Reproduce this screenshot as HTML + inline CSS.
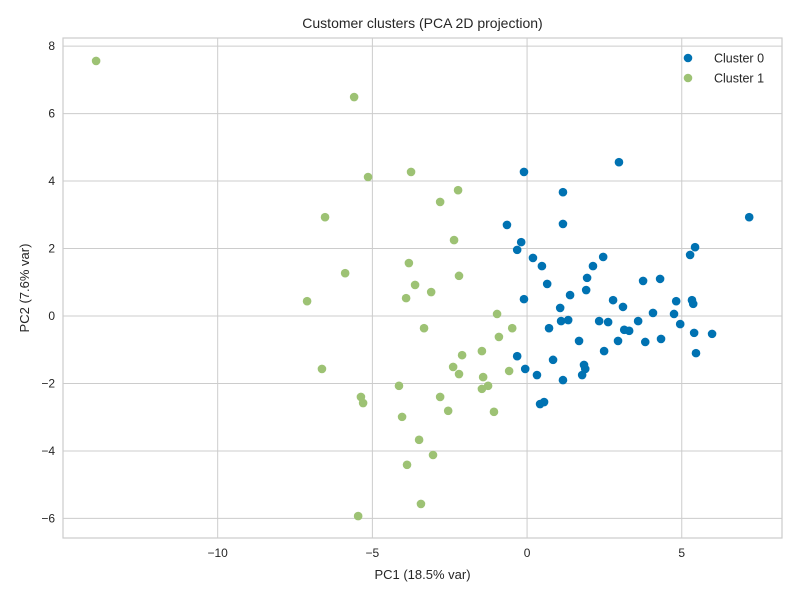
<!DOCTYPE html>
<html><head><meta charset="utf-8"><style>
html,body{margin:0;padding:0;background:#fff;}
svg{display:block;font-family:"Liberation Sans",Arial,sans-serif;}
</style></head><body>
<svg id="chart" width="800" height="600" xmlns="http://www.w3.org/2000/svg"></svg>
<script>
const xTicks=[-10,-5,0,5];
const yTicks=[-6,-4,-2,0,2,4,6,8];
const seriesNames=["Cluster 0","Cluster 1"];
const cluster0X=[7.18,2.97,-0.10,1.16,1.16,-0.65,-0.19,-0.32,0.19,0.48,2.46,2.13,0.65,1.94,1.91,1.39,-0.10,4.30,3.75,2.78,3.10,5.43,5.27,5.33,5.37,4.82,4.07,4.75,3.59,2.33,2.62,1.33,1.10,4.95,3.30,3.14,0.71,5.40,5.98,3.82,4.33,2.94,1.68,2.49,5.46,-0.32,0.84,1.84,1.88,-0.06,0.32,1.78,1.16,0.42,0.55,1.07];
const cluster0Y=[2.93,4.56,4.27,3.67,2.73,2.70,2.19,1.96,1.72,1.48,1.75,1.48,0.95,1.13,0.77,0.62,0.50,1.10,1.04,0.47,0.27,2.04,1.81,0.47,0.36,0.44,0.09,0.06,-0.15,-0.15,-0.18,-0.12,-0.15,-0.24,-0.44,-0.41,-0.36,-0.50,-0.53,-0.77,-0.68,-0.74,-0.74,-1.04,-1.10,-1.19,-1.30,-1.45,-1.57,-1.57,-1.75,-1.75,-1.90,-2.61,-2.55,0.24];
const cluster1X=[-13.93,-5.59,-5.14,-3.75,-2.23,-2.81,-6.53,-2.36,-3.82,-5.88,-2.20,-3.62,-3.10,-7.11,-3.91,-0.97,-3.33,-0.48,-0.91,-6.63,-2.10,-1.46,-0.58,-2.39,-2.20,-1.42,-4.14,-1.26,-1.46,-1.07,-2.81,-2.55,-5.37,-5.30,-4.04,-3.49,-3.04,-3.88,-3.43,-5.46];
const cluster1Y=[7.56,6.49,4.12,4.27,3.73,3.38,2.93,2.25,1.57,1.27,1.19,0.92,0.71,0.44,0.53,0.06,-0.36,-0.36,-0.62,-1.57,-1.16,-1.04,-1.63,-1.51,-1.72,-1.81,-2.07,-2.07,-2.16,-2.84,-2.40,-2.81,-2.40,-2.58,-2.99,-3.67,-4.12,-4.41,-5.57,-5.93];

const svg=document.getElementById('chart');
const NS="http://www.w3.org/2000/svg";
const L=63,R=782,T=38,B=538;
const xMin=-15.0,xMax=8.24,yMin=-6.58,yMax=8.24;
const sx=v=>L+(v-xMin)/(xMax-xMin)*(R-L);
const sy=v=>B-(v-yMin)/(yMax-yMin)*(B-T);
function mk(tag,attrs,parent){const e=document.createElementNS(NS,tag);for(const k in attrs)e.setAttribute(k,attrs[k]);(parent||svg).appendChild(e);return e;}

const grid=mk('g',{});


xTicks.forEach(t=>{
  const l=mk('line',{x1:sx(t),x2:sx(t),y1:T,y2:B,stroke:'#cccccc','stroke-width':1},grid);
  
  
  const tx=mk('text',{x:sx(t),y:B+19,'text-anchor':'middle','font-size':12,fill:'#262626'});
  
  
  tx.textContent=t<0?'\u2212'+Math.abs(t):String(t);
});
yTicks.forEach(t=>{
  const l=mk('line',{x1:L,x2:R,y1:sy(t),y2:sy(t),stroke:'#cccccc','stroke-width':1},grid);
  
  
  const tx=mk('text',{x:L-8,y:sy(t)+4,'text-anchor':'end','font-size':12,fill:'#262626'});
  
  
  tx.textContent=t<0?'\u2212'+Math.abs(t):String(t);
});
const frame=mk('rect',{x:L,y:T,width:R-L,height:B-T,fill:'none',stroke:'#cccccc','stroke-width':1.2});



function drawSeries(xs,ys,color,name){
  const g=mk('g',{});
  
  
  xs.forEach((x,i)=>{
    const c=mk('circle',{cx:sx(x),cy:sy(ys[i]),r:4.3,fill:color},g);
    
    
  });
}
drawSeries(cluster0X,cluster0Y,'#0072b2','cluster-0-points');
drawSeries(cluster1X,cluster1Y,'#9dc274','cluster-1-points');

const title=mk('text',{x:(L+R)/2,y:28,'text-anchor':'middle','font-size':14,fill:'#262626'});


title.textContent='Customer clusters (PCA 2D projection)';
const xl=mk('text',{x:(L+R)/2,y:579,'text-anchor':'middle','font-size':13,fill:'#262626'});


xl.textContent='PC1 (18.5% var)';
const yl=mk('text',{x:0,y:0,'text-anchor':'middle','font-size':13,fill:'#262626',transform:`translate(29,${(T+B)/2}) rotate(-90)`});


yl.textContent='PC2 (7.6% var)';

const colors=['#0072b2','#9dc274'];
const leg=mk('g',{});


seriesNames.forEach((n,i)=>{
  const y=58+i*20;
  const c=mk('circle',{cx:688,cy:y,r:4.3,fill:colors[i]},leg);
  
  
  const t=mk('text',{x:714,y:y+4.5,'font-size':12.5,fill:'#262626'},leg);
  
  
  t.textContent=n;
});
</script>
</body></html>
